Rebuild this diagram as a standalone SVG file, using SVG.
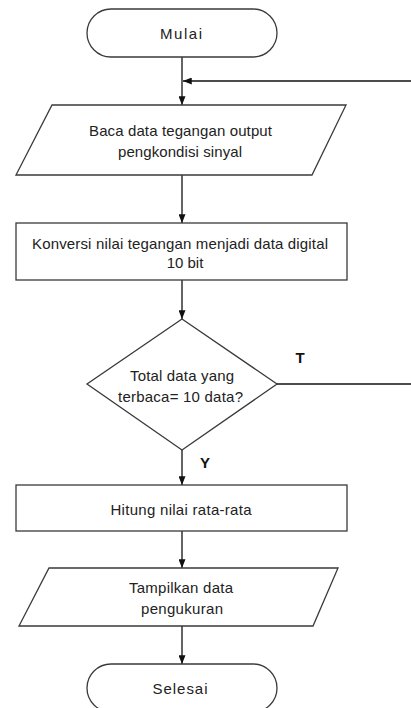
<svg xmlns="http://www.w3.org/2000/svg" width="411" height="708" viewBox="0 0 411 708">
<style>
.s{fill:#fff;stroke:#3a3a3a;stroke-width:1.3}
.c{fill:none;stroke:#111;stroke-width:1.3}
.t{font-family:"Liberation Sans",Arial,sans-serif;font-size:15px;fill:#222;text-anchor:middle;dominant-baseline:central}
.b{font-family:"Liberation Sans",Arial,sans-serif;font-size:15px;font-weight:bold;fill:#111;text-anchor:middle;dominant-baseline:central}
</style>
<defs>
<marker id="ah" viewBox="0 0 10 8" refX="10" refY="4" markerWidth="9" markerHeight="7" markerUnits="userSpaceOnUse" orient="auto">
<path d="M0,0 L10,4 L0,8 Z" fill="#111"/>
</marker>
</defs>
<rect width="411" height="708" fill="#fff"/>
<g id="connectors">
<line class="c" x1="182" y1="57" x2="182" y2="105" marker-end="url(#ah)"/>
<line class="c" x1="411" y1="81" x2="183" y2="81" marker-end="url(#ah)"/>
<line class="c" x1="182" y1="175" x2="182" y2="223" marker-end="url(#ah)"/>
<line class="c" x1="182" y1="280" x2="182" y2="319" marker-end="url(#ah)"/>
<line class="c" x1="277" y1="384" x2="411" y2="384"/>
<line class="c" x1="182" y1="450" x2="182" y2="485" marker-end="url(#ah)"/>
<line class="c" x1="182" y1="531" x2="182" y2="568" marker-end="url(#ah)"/>
<line class="c" x1="182" y1="626" x2="182" y2="664" marker-end="url(#ah)"/>
<text class="b" x="300" y="357">T</text>
<text class="b" x="205" y="462">Y</text>
</g>
<g id="mulai">
<rect class="s" x="87" y="9" width="190" height="48" rx="24" ry="24"/>
<text class="t" x="181" y="33" textLength="42">Mulai</text>
</g>
<g id="baca">
<polygon class="s" points="52,105 346,105 312,175 16,175"/>
<text class="t" x="180.5" y="130" textLength="183">Baca data tegangan output</text>
<text class="t" x="180" y="151" textLength="124">pengkondisi sinyal</text>
</g>
<g id="konversi">
<rect class="s" x="16" y="223" width="331" height="57"/>
<text class="t" x="180" y="243" textLength="296">Konversi nilai tegangan menjadi data digital</text>
<text class="t" x="185" y="262">10 bit</text>
</g>
<g id="keputusan">
<polygon class="s" points="182,319 277,384 182,450 87,384"/>
<text class="t" x="182" y="375" textLength="104">Total data yang</text>
<text class="t" x="180.5" y="396" textLength="125">terbaca= 10 data?</text>
</g>
<g id="hitung">
<rect class="s" x="16" y="485" width="331" height="46"/>
<text class="t" x="181" y="509" textLength="141">Hitung nilai rata-rata</text>
</g>
<g id="tampilkan">
<polygon class="s" points="49,568 338,568 313,626 19,626"/>
<text class="t" x="181" y="587" textLength="104">Tampilkan data</text>
<text class="t" x="182" y="608" textLength="82">pengukuran</text>
</g>
<g id="selesai">
<rect class="s" x="87" y="664" width="190" height="48" rx="24" ry="24"/>
<text class="t" x="180" y="688" textLength="55">Selesai</text>
</g>
</svg>
